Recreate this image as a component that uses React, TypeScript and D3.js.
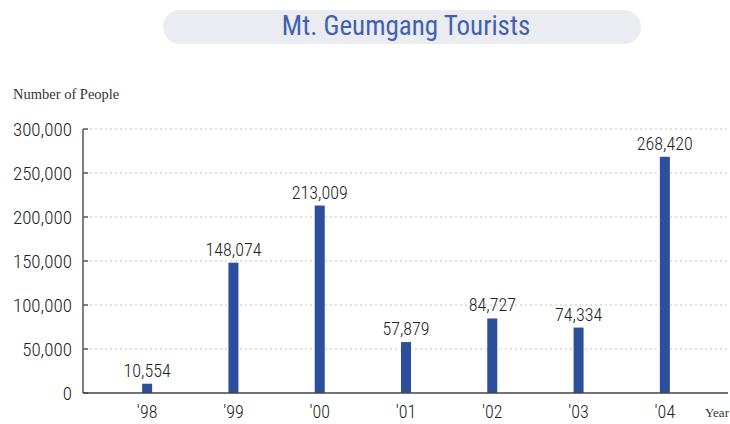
import React from "react";
import * as d3 from "d3";

const years = ["'98", "'99", "'00", "'01", "'02", "'03", "'04"];
const tourists = [10554, 148074, 213009, 57879, 84727, 74334, 268420];
const yTicks = [0, 50000, 100000, 150000, 200000, 250000, 300000];

const W = 730;
const H = 424;
const NARROW = "'Liberation Sans Narrow', 'Roboto Condensed', Roboto, sans-serif";

export default function App() {
  const x = d3.scaleBand<string>().domain(years).range([104, 708]);
  const y = d3.scaleLinear().domain([0, 300000]).range([393, 129]);
  const fmt = d3.format(",");
  const axisX = 83;
  const barW = 10;
  return (
    <svg width={W} height={H} style={{ position: "absolute", left: 0, top: 0, background: "#fff" }}>
      <rect x={163} y={10} width={478} height={34} rx={17} fill="#ebebf2" />
      <text x={406} y={35} textAnchor="middle" fontFamily={NARROW} fontWeight={400} fontSize={27} fill="#4062b0">
        Mt. Geumgang Tourists
      </text>
      <text x={13} y={99} fontFamily="'Liberation Serif', serif" fontSize={14.5} fill="#333">
        Number of People
      </text>
      {yTicks.filter(t => t > 0).map(t => (
        <line key={"g" + t} x1={90} x2={728} y1={y(t)} y2={y(t)} stroke="#c4c4c4" strokeWidth={1} strokeDasharray="2,3" />
      ))}
      {yTicks.map(t => (
        <g key={"t" + t}>
          <line x1={axisX} x2={axisX + 5} y1={y(t)} y2={y(t)} stroke="#555" strokeWidth={1.5} />
          <text x={72} y={y(t) + 7} textAnchor="end" fontFamily={NARROW} fontWeight={300} fontSize={19} fill="#222">
            {fmt(t)}
          </text>
        </g>
      ))}
      {years.map((yr, i) => {
        const cx = (x(yr) as number) + x.bandwidth() / 2;
        return (
          <g key={yr}>
            <rect x={cx - barW / 2} y={y(tourists[i])} width={barW} height={y(0) - y(tourists[i])} fill="#2b4f9b" />
            <text x={cx} y={y(tourists[i]) - 7} textAnchor="middle" fontFamily={NARROW} fontWeight={300} fontSize={18} fill="#222">
              {fmt(tourists[i])}
            </text>
            <text x={cx} y={418} textAnchor="middle" fontFamily={NARROW} fontWeight={300} fontSize={18} fill="#222">
              {yr}
            </text>
          </g>
        );
      })}
      <line x1={axisX} x2={axisX} y1={y(300000)} y2={y(0)} stroke="#555" strokeWidth={1.5} />
      <line x1={axisX} x2={728} y1={y(0)} y2={y(0)} stroke="#444" strokeWidth={1.5} />
      <text x={705} y={417} fontFamily="'Liberation Serif', serif" fontSize={13} fill="#333">
        Year
      </text>
    </svg>
  );
}
